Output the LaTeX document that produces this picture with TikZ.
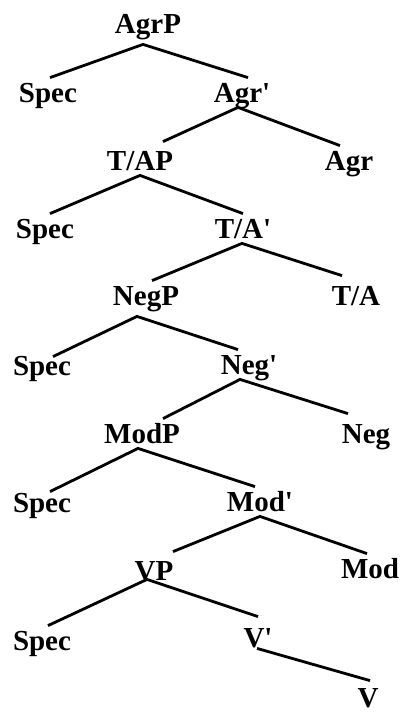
\documentclass[tikz,border=0pt]{standalone}
\usepackage{fontspec}
\setmainfont{Liberation Serif}
\begin{document}
\begin{tikzpicture}[x=1pt, y=-1pt, line width=2.8pt,
	cat/.style={anchor=base, inner sep=0pt, text height=23pt, text depth=4pt,
	font=\fontsize{29}{31}\selectfont\bfseries}]
			
			\useasboundingbox (0,0) rectangle (402,713);
			
			%Nodes
			\node (AgrP) at (148,33) [cat]{AgrP};
			\node (SpecA) at (48,102) [cat]{Spec};
			\node (AgrBar) at (242,102) [cat]{Agr\textquotesingle};
			\node (TAP) at (140,170) [cat]{T/AP};
			\node (Agr) at (349,170) [cat]{Agr};
			\node (SpecT) at (45,238) [cat]{Spec};
			\node (TABar) at (243,238) [cat]{T/A\textquotesingle};
			\node (NegP) at (146,305) [cat]{NegP};
			\node (TA) at (356,305) [cat]{T/A};
			\node (SpecN) at (42,375) [cat]{Spec};
			\node (NegBar) at (249,374) [cat]{Neg\textquotesingle};
			\node (ModP) at (142,443) [cat]{ModP};
			\node (Neg) at (366,443) [cat]{Neg};
			\node (SpecM) at (42,512) [cat]{Spec};
			\node (ModBar) at (260,511) [cat]{Mod\textquotesingle};
			\node (VP) at (154,580) [cat]{VP};
			\node (Mod) at (370,578) [cat]{Mod};
			\node (SpecV) at (42,650) [cat]{Spec};
			\node (VBar) at (258,647) [cat]{V\textquotesingle};
			\node (V) at (368,707) [cat]{V};
			
			%Links
			\draw ([xshift=2pt]SpecA.north) -- ([xshift=-5pt,yshift=-6pt]AgrP.south)
			-- ([xshift=6pt]AgrBar.north);
			\draw ([xshift=23pt,yshift=4pt]TAP.north) -- ([xshift=-4pt]AgrBar.south)
			-- ([xshift=-9pt]Agr.north);
			\draw ([xshift=5pt]SpecT.north) -- (TAP.south) -- (TABar.north);
			\draw ([xshift=6pt]NegP.north) -- ([xshift=-1pt]TABar.south)
			-- ([xshift=-14pt,yshift=5pt]TA.north);
			\draw ([xshift=11pt,yshift=-6pt]SpecN.north) -- ([xshift=-9pt,yshift=-6pt]NegP.south)
			-- ([xshift=-11pt]NegBar.north);
			\draw ([xshift=21pt]ModP.north) -- ([xshift=-9pt]NegBar.south)
			-- ([xshift=-18pt,yshift=5pt]Neg.north);
			\draw ([xshift=8pt,yshift=-4pt]SpecM.north) -- ([xshift=-4pt]ModP.south)
			-- ([xshift=-5pt]ModBar.north);
			\draw ([xshift=19pt,yshift=4pt]VP.north) -- (ModBar.south)
			-- ([xshift=-3pt]Mod.north);
			\draw ([xshift=6pt]SpecV.north) -- ([xshift=-7pt,yshift=6pt]VP.south)
			-- ([yshift=6pt]VBar.north);
			\draw ([xshift=-1pt,yshift=4pt]VBar.south) -- ([xshift=2pt,yshift=2pt]V.north);
			
			\end{tikzpicture}
\end{document}
